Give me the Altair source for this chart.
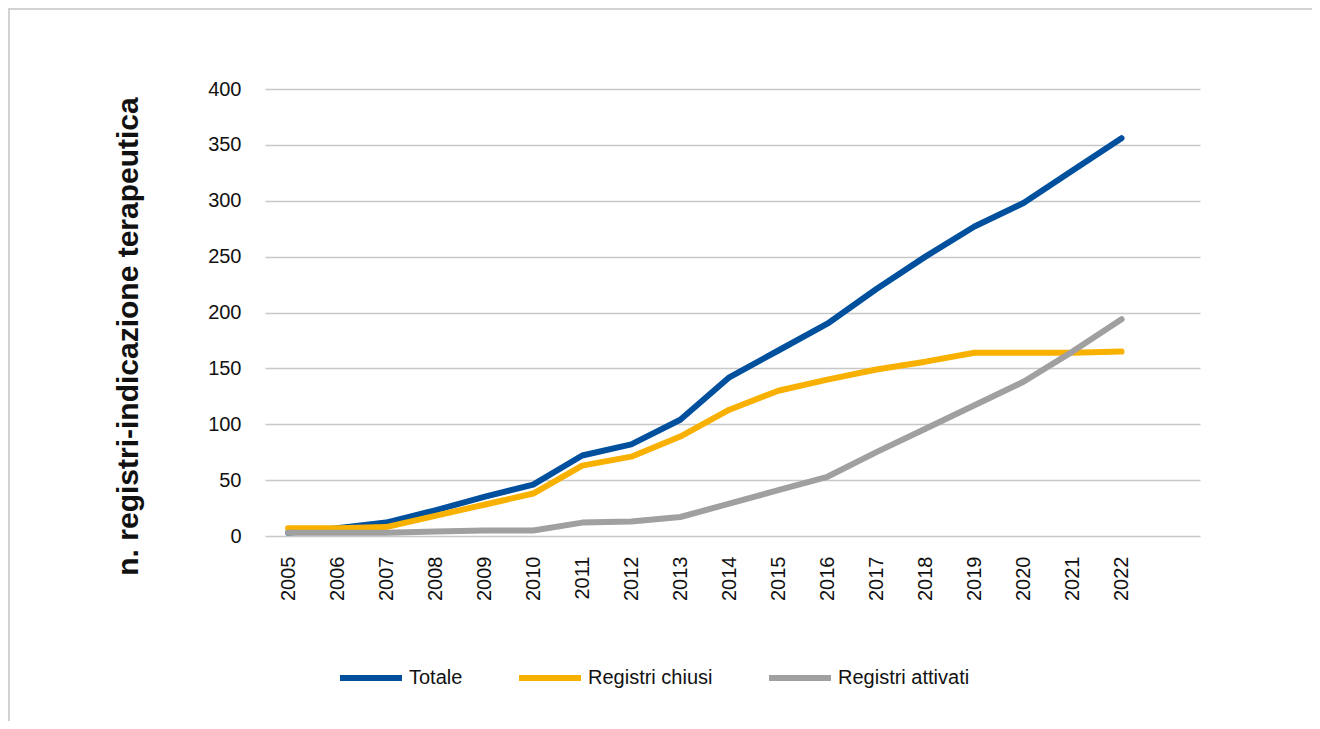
import altair as alt
import pandas as pd

years = list(range(2005, 2023))
totale = [3, 7, 12, 23, 35, 46, 72, 82, 104, 142, 166, 190, 221, 250, 277, 298, 327, 356]
chiusi = [7, 7, 8, 18, 28, 38, 63, 71, 89, 113, 130, 140, 149, 156, 164, 164, 164, 165]
attivati = [3, 3, 3, 4, 5, 5, 12, 13, 17, 29, 41, 53, 75, 96, 117, 138, 165, 194]

series_names = ["Totale", "Registri chiusi", "Registri attivati"]
series_colors = ["#00509E", "#F8B100", "#A0A0A0"]
y_ticks = [0, 50, 100, 150, 200, 250, 300, 350, 400]

rows = []
for name, vals in zip(series_names, [totale, chiusi, attivati]):
    for yr, v in zip(years, vals):
        rows.append({"anno": yr, "valore": v, "serie": name})
df = pd.DataFrame(rows)

FONT = "Liberation Sans, Helvetica, Arial, sans-serif"
NARROW = "Liberation Sans Narrow, Arial Narrow, Liberation Sans, sans-serif"

lines = alt.Chart(df).mark_line(strokeWidth=6, strokeCap="round", strokeJoin="round").encode(
    x=alt.X("anno:Q",
            scale=alt.Scale(domain=[2004.53, 2023.6], nice=False, zero=False),
            axis=alt.Axis(values=years, format="d", labelAngle=-90, grid=False, domain=False,
                          ticks=False, tickSize=0, labelPadding=20, labelFontSize=20,
                          labelFont=FONT, labelColor="#111111", title=None,
                          labelAlign="right", labelBaseline="middle")),
    y=alt.Y("valore:Q",
            scale=alt.Scale(domain=[0, 400], nice=False),
            axis=alt.Axis(values=y_ticks, grid=True, gridColor="#c8c8c8", gridWidth=1.6,
                          domain=False, ticks=False, tickSize=0, labelPadding=24,
                          labelFontSize=20, labelFont=FONT, labelColor="#111111",
                          title="n. registri-indicazione terapeutica",
                          titleFont=FONT, titleFontSize=30, titleFontWeight="bold",
                          titleColor="#111111", titleX=-137, titleY=247,
                          titleAngle=-90, titleBaseline="middle", titleAlign="center")),
    color=alt.Color("serie:N",
                    scale=alt.Scale(domain=series_names, range=series_colors),
                    legend=alt.Legend(title=None, orient="none", direction="horizontal",
                                      legendX=72, legendY=555, symbolType="stroke",
                                      symbolSize=3844, symbolStrokeWidth=6,
                                      labelFont=NARROW, labelFontSize=20,
                                      labelColor="#111111", labelOffset=4,
                                      columnPadding=44, padding=0)),
    order=alt.Order("serie_order:Q"),
).transform_calculate(
    serie_order="datum.serie == 'Totale' ? 0 : (datum.serie == 'Registri chiusi' ? 1 : 2)"
)

frame = alt.Chart(pd.DataFrame({"a": [0]})).mark_rect(
    fill="transparent", stroke="#d2d2d2", strokeWidth=2
).encode(
    x=alt.value(-256), y=alt.value(-80), x2=alt.value(1300), y2=alt.value(900)
)

chart = alt.layer(frame, lines).properties(
    width=935, height=447,
    autosize=alt.AutoSizeParams(type="none"),
    padding={"left": 257, "top": 81, "right": 112, "bottom": 185},
).configure_view(strokeWidth=0)

chart.save("out.html", embed_options={"renderer": "svg", "actions": False})
